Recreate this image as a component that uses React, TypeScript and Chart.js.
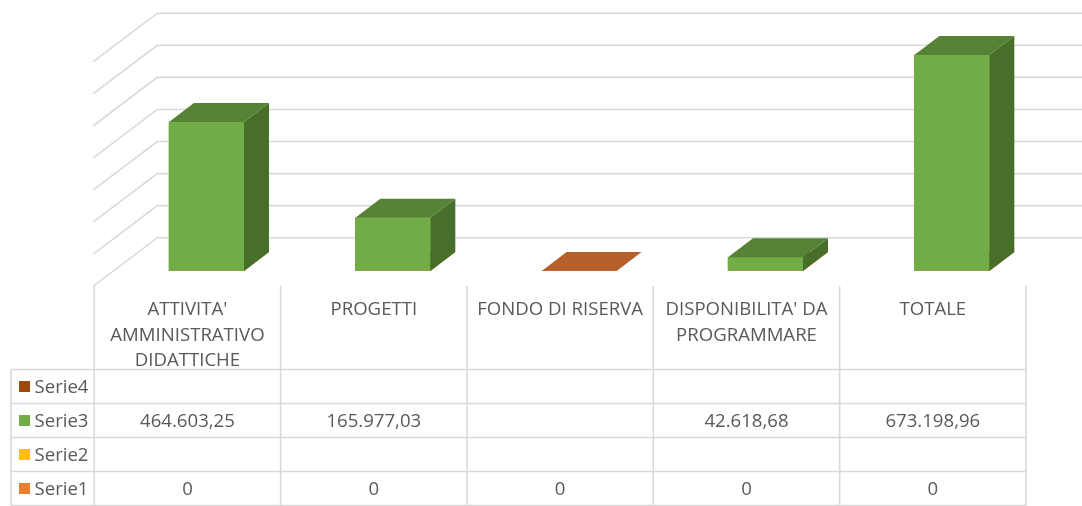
import React, { useEffect, useRef } from "react";
import { Chart, registerables } from "chart.js";

Chart.register(...registerables);

// ---------- data ----------
const categories: string[][] = [
  ["ATTIVITA'", "AMMINISTRATIVO", "DIDATTICHE"],
  ["PROGETTI"],
  ["FONDO DI RISERVA"],
  ["DISPONIBILITA' DA", "PROGRAMMARE"],
  ["TOTALE"],
];
const seriesNames = ["Serie1", "Serie2", "Serie3", "Serie4"];
const serie1: (number | null)[] = [0, 0, 0, 0, 0];
const serie2: (number | null)[] = [null, null, null, null, null];
const serie3: (number | null)[] = [464603.25, 165977.03, null, 42618.68, 673198.96];
const serie4: (number | null)[] = [null, null, null, null, null];
const gridValues = [100000, 200000, 300000, 400000, 500000, 600000, 700000, 800000];
const yMax = 800000;

// ---------- styles ----------
const frontColors = ["#ED7D31", "#FFC000", "#70AD47", "#9E480E"];
const topColors = ["#B5602A", "#C99700", "#558235", "#7A3A0C"];
const sideColors = ["#A85A24", "#B88A00", "#486F2A", "#6B320A"];
const legendColors = ["#ED7D31", "#FFC000", "#70AD47", "#9E480E"];
const GRID = "#D9D9D9";
const TEXT = "#595959";
const FONT = '18.6px "Open Sans"';
const DX = 25;
const DY = -19;
const SHIFT = 19;

function fmt(v: number | null): string {
  if (v === null || v === undefined) return "";
  if (Number.isInteger(v)) return String(v);
  const [ip, dp] = v.toFixed(2).split(".");
  const withDots = ip.replace(/\B(?=(\d{3})+(?!\d))/g, ".");
  return withDots + "," + dp;
}

const threeD = {
  id: "threeD",
  beforeDatasetsDraw(chart: any) {
    const ctx = chart.ctx;
    const y = chart.scales.y;
    const area = chart.chartArea;
    const wallX = area.left + 44;
    ctx.save();
    ctx.strokeStyle = GRID;
    ctx.lineWidth = 1.6;
    gridValues.forEach((v) => {
      const yy = y.getPixelForValue(v) - 1.2;
      ctx.beginPath();
      ctx.moveTo(wallX - 64, yy + 48.4);
      ctx.lineTo(wallX, yy);
      ctx.lineTo(chart.width, yy);
      ctx.stroke();
    });
    // zero-height bars: only top face
    chart.data.datasets.forEach((ds: any, di: number) => {
      const meta = chart.getDatasetMeta(di);
      meta.data.forEach((el: any, i: number) => {
        if (ds.data[i] !== 0) return;
        const p = el.getProps(["x", "y", "base", "width"], true);
        const l = p.x - p.width / 2;
        const r = p.x + p.width / 2;
        ctx.fillStyle = topColors[di];
        ctx.beginPath();
        ctx.moveTo(l, p.y);
        ctx.lineTo(r, p.y);
        ctx.lineTo(r + DX, p.y + DY);
        ctx.lineTo(l + DX, p.y + DY);
        ctx.closePath();
        ctx.fill();
      });
    });
    ctx.restore();
  },
  afterDatasetsDraw(chart: any) {
    const ctx = chart.ctx;
    ctx.save();
    chart.data.datasets.forEach((ds: any, di: number) => {
      const meta = chart.getDatasetMeta(di);
      meta.data.forEach((el: any, i: number) => {
        const v = ds.data[i];
        if (v === null || v === undefined || v === 0) return;
        const p = el.getProps(["x", "y", "base", "width"], true);
        const l = p.x - p.width / 2;
        const r = p.x + p.width / 2;
        ctx.fillStyle = sideColors[di];
        ctx.beginPath();
        ctx.moveTo(r, p.y);
        ctx.lineTo(r, p.base);
        ctx.lineTo(r + DX, p.base + DY);
        ctx.lineTo(r + DX, p.y + DY);
        ctx.closePath();
        ctx.fill();
        ctx.fillStyle = topColors[di];
        ctx.beginPath();
        ctx.moveTo(l, p.y);
        ctx.lineTo(r, p.y);
        ctx.lineTo(r + DX, p.y + DY);
        ctx.lineTo(l + DX, p.y + DY);
        ctx.closePath();
        ctx.fill();
      });
    });
    ctx.restore();
  },
  afterDraw(chart: any) {
    const ctx = chart.ctx;
    const x = chart.scales.x;
    const n = categories.length;
    const colW = x.getPixelForValue(1) - x.getPixelForValue(0);
    const edge = (i: number) => x.getPixelForValue(0) - colW / 2 - SHIFT + i * colW;
    const headerTop = 286;
    const rowsTop = 369.5;
    const rowH = 34;
    const bottom = rowsTop + rowH * 4;
    const legendLeft = 11;
    ctx.save();
    ctx.strokeStyle = GRID;
    ctx.lineWidth = 1.6;
    for (let i = 0; i <= n; i++) {
      const xx = edge(i);
      ctx.beginPath();
      ctx.moveTo(xx, headerTop);
      ctx.lineTo(xx, bottom);
      ctx.stroke();
    }
    ctx.beginPath();
    ctx.moveTo(legendLeft, rowsTop);
    ctx.lineTo(legendLeft, bottom);
    ctx.stroke();
    for (let r = 0; r <= 4; r++) {
      const yy = rowsTop + r * rowH;
      ctx.beginPath();
      ctx.moveTo(legendLeft, yy);
      ctx.lineTo(edge(n), yy);
      ctx.stroke();
    }
    ctx.font = FONT;
    ctx.fillStyle = TEXT;
    ctx.textAlign = "center";
    ctx.textBaseline = "alphabetic";
    categories.forEach((lines, i) => {
      const cx = edge(i) + colW / 2;
      lines.forEach((t, k) => ctx.fillText(t, cx, 315 + k * 25.5));
    });
    const datasets = chart.data.datasets;
    for (let r = 0; r < 4; r++) {
      const di = 3 - r;
      const cy = rowsTop + r * rowH + rowH / 2;
      ctx.fillStyle = legendColors[di];
      ctx.fillRect(19, cy - 5.5, 11, 11);
      ctx.fillStyle = TEXT;
      ctx.textAlign = "left";
      ctx.fillText(datasets[di].label, 34.5, cy + 6.5);
      ctx.textAlign = "center";
      datasets[di].data.forEach((v: number | null, i: number) => {
        ctx.fillText(fmt(v), edge(i) + colW / 2, cy + 6.5);
      });
    }
    ctx.restore();
  },
};

export default function App() {
  const ref = useRef<HTMLCanvasElement>(null);
  useEffect(() => {
    if (!ref.current) return;
    const allData = [serie1, serie2, serie3, serie4];
    const chart = new Chart(ref.current, {
      type: "bar",
      data: {
        labels: categories,
        datasets: seriesNames.map((name, i) => ({
          label: name,
          data: allData[i],
          backgroundColor: frontColors[i],
          borderWidth: 0,
          grouped: false,
          barThickness: 75,
        })),
      },
      options: {
        animation: false,
        responsive: false,
        maintainAspectRatio: false,
        layout: { padding: { left: 113.3, right: 37, top: 14.4, bottom: 235 } },
        plugins: { legend: { display: false }, tooltip: { enabled: false } },
        scales: {
          x: { display: false, offset: true },
          y: { display: false, min: 0, max: yMax },
        },
      },
      plugins: [threeD],
    } as any);
    return () => chart.destroy();
  }, []);
  return (
    <div style={{ position: "fixed", left: 0, top: 0, width: 1082, height: 506, background: "#fff" }}>
      <canvas ref={ref} width={1082} height={506} />
    </div>
  );
}
